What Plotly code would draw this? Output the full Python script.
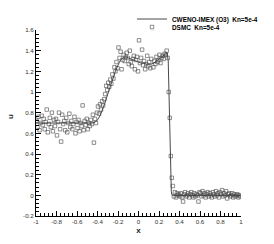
import numpy as np
import plotly.graph_objects as go

# CWENO-IMEX (O3) solution
x_line = [-1.0, -0.8, -0.6, -0.5, -0.45, -0.42, -0.40, -0.375, -0.35, -0.325, -0.30, -0.275,
          -0.25, -0.225, -0.20, -0.175, -0.15, -0.125, -0.10, -0.075, -0.05, -0.025, 0.0,
          0.025, 0.05, 0.075, 0.10, 0.125, 0.15, 0.175, 0.20, 0.225, 0.25, 0.27, 0.28,
          0.29, 0.295, 0.30, 0.305, 0.31, 0.315, 0.32, 0.325, 0.33, 0.34, 0.35, 0.40,
          0.5, 0.6, 0.7, 0.8, 0.9, 1.0]
u_line = [0.70, 0.70, 0.70, 0.70, 0.70, 0.71, 0.73, 0.77, 0.83, 0.90, 0.98, 1.06,
          1.13, 1.20, 1.26, 1.31, 1.33, 1.34, 1.33, 1.32, 1.31, 1.30, 1.29,
          1.28, 1.28, 1.27, 1.27, 1.27, 1.28, 1.30, 1.32, 1.34, 1.36, 1.37, 1.38,
          1.30, 1.10, 0.85, 0.55, 0.30, 0.12, 0.04, 0.01, 0.0, 0.0, 0.0, 0.0,
          0.0, 0.0, 0.0, 0.0, 0.0, 0.0]

# DSMC samples (cell centres, spacing 0.01)
x_dsmc = np.round(np.arange(-0.995, 1.0, 0.01), 3)
u_dsmc = [
    0.72, 0.66, 0.76, 0.63, 0.70, 0.77, 0.68, 0.74, 0.64, 0.71,
    0.83, 0.61, 0.69, 0.75, 0.66, 0.80, 0.62, 0.73, 0.67, 0.74,
    0.58, 0.71, 0.80, 0.64, 0.52, 0.78, 0.69, 0.72, 0.63, 0.75,
    0.61, 0.70, 0.79, 0.66, 0.72, 0.64, 0.69, 0.76, 0.60, 0.71,
    0.65, 0.73, 0.62, 0.70, 0.67, 0.87, 0.63, 0.72, 0.68, 0.74,
    0.64, 0.70, 0.67, 0.73, 0.69, 0.78, 0.51, 0.74, 0.70, 0.80,
    0.86, 0.79, 0.88, 0.83, 0.91, 0.87, 0.93, 0.98, 1.06, 1.02,
    1.09, 1.05, 1.12, 1.08, 1.17, 1.13, 1.24, 1.20, 1.29, 1.23,
    1.43, 1.33, 1.39, 1.22, 1.31, 1.36, 1.30, 1.34, 1.38, 1.33,
    1.27, 1.40, 1.29, 1.25, 1.32, 1.35, 1.22, 1.31, 1.34, 1.20,
    1.50, 1.28, 1.33, 1.41, 1.26, 1.30, 1.22, 1.27, 1.35, 1.25,
    1.29, 1.23, 1.32, 1.62, 1.24, 1.30, 1.27, 1.34, 1.29, 1.31,
    1.36, 1.28, 1.33, 1.35, 1.32, 1.37, 1.36, 1.40, 1.33, 1.00,
    0.75, 0.38, 0.17, 0.09, -0.01, 0.03, -0.02, 0.02, 0.00, 0.01,
    -0.01, 0.02, -0.02, -0.06, 0.01, 0.03, -0.01, 0.00, 0.02, -0.02,
    0.01, 0.03, 0.00, -0.02, 0.02, -0.01, 0.01, 0.00, -0.06, 0.03,
    0.02, -0.01, 0.04, 0.00, 0.02, -0.02, 0.01, 0.03, -0.01, 0.02,
    0.00, -0.02, 0.03, 0.01, -0.01, 0.04, 0.00, 0.02, -0.02, 0.03,
    0.01, 0.05, -0.01, 0.02, 0.00, 0.04, -0.03, 0.01, 0.02, -0.01,
    0.00, 0.02, -0.02, 0.01, -0.01, 0.00, 0.01, -0.02, 0.00, -0.01,
]

x_ticks = [-1, -0.8, -0.6, -0.4, -0.2, 0, 0.2, 0.4, 0.6, 0.8, 1]
x_ticklabels = ["-1", "-0.8", "-0.6", "-0.4", "-0.2", "0", "0.2", "0.4", "0.6", "0.8", "1"]
y_ticks = [-0.2, 0, 0.2, 0.4, 0.6, 0.8, 1, 1.2, 1.4, 1.6]
y_ticklabels = ["-0.2", "0", "0.2", "0.4", "0.6", "0.8", "1", "1.2", "1.4", "1.6"]

FONT = "Liberation Sans, Arial"

fig = go.Figure()
fig.add_trace(go.Scatter(
    x=x_line, y=u_line, mode="lines",
    line=dict(color="#333333", width=0.9),
    name="CWENO-IMEX (O3)  Kn=5e-4", legend="legend"))
fig.add_trace(go.Scatter(
    x=x_dsmc, y=u_dsmc, mode="markers",
    marker=dict(symbol="square-open", size=3.5, color="#444444", line=dict(width=0.6)),
    name="DSMC  Kn=5e-4", legend="legend2"))

axis_common = dict(
    showgrid=False, zeroline=False, showline=True, linecolor="black", linewidth=1,
    ticks="inside", ticklen=5, tickwidth=1, tickcolor="black",
    tickfont=dict(family=FONT, size=6.2, color="#333333"),
    mirror=False, tickangle=0,
)

fig.update_xaxes(**axis_common, range=[-1, 1], tickvals=x_ticks, ticktext=x_ticklabels,
                 minor=dict(ticks="inside", ticklen=3, dtick=0.04, tickcolor="black", tickwidth=1),
                 title=dict(text="<b>x</b>", font=dict(family=FONT, size=8, color="#222"),
                            standoff=2))
fig.update_yaxes(**axis_common, range=[-0.2, 1.6], tickvals=y_ticks, ticktext=y_ticklabels,
                 minor=dict(ticks="inside", ticklen=3, dtick=0.04, tickcolor="black", tickwidth=1))

leg_common = dict(xref="container", yref="container", xanchor="left", yanchor="middle",
                  bgcolor="rgba(0,0,0,0)", borderwidth=0, itemwidth=30,
                  font=dict(family=FONT, size=6.4, color="black", weight="bold"))

fig.update_layout(
    width=274, height=244,
    margin=dict(l=36, r=33, t=29.5, b=27.5, autoexpand=False),
    paper_bgcolor="white", plot_bgcolor="white",
    showlegend=True,
    legend=dict(x=132/274, y=1 - 19/244, **leg_common),
    legend2=dict(x=132/274, y=1 - 27/244, **leg_common),
    annotations=[dict(text="<b>u</b>", textangle=-90, xref="paper", yref="paper",
                      x=(10 - 36) / 205, y=(216.5 - 117) / 187, showarrow=False,
                      xanchor="center", yanchor="middle",
                      font=dict(family=FONT, size=8, color="#222"))],
)

fig.write_html("out.html", config={"displayModeBar": False},
               post_script="document.body.style.margin='0';document.body.style.overflow='hidden';")
